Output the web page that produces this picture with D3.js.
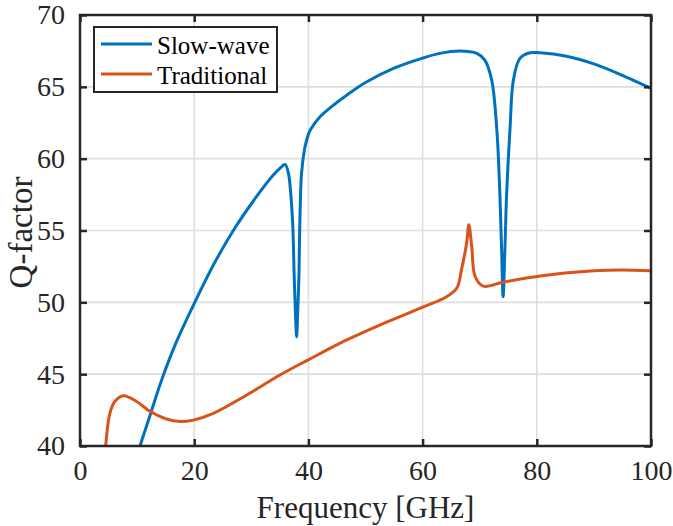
<!DOCTYPE html>
<html>
<head>
<meta charset="utf-8">
<script src="https://cdn.jsdelivr.net/npm/d3@7"></script>
<style>
  html, body { margin: 0; padding: 0; background: #fff; }
  svg { display: block; }
</style>
</head>
<body>
<svg id="chart" width="673" height="526"></svg>
<script>
// ---- Data ----
const seriesNames = ["Slow-wave", "Traditional"];
const seriesColors = ["#0072BD", "#D95319"];

const slowWaveFreq = [10.5, 12.4, 14.3, 16.9, 20.1, 23.5, 26.85, 30.9, 33.85, 35.2, 35.9, 36.5, 36.9, 37.25, 37.5, 37.75, 37.94,
  38.1, 38.35, 38.5, 38.8, 39.3, 39.7, 40.2, 41.0, 42.0, 44, 47, 50, 55, 60, 63, 66.5, 69.5, 70.9, 72.1, 73.0, 73.55,
  73.85, 74.1, 74.4, 74.7, 75.3, 75.9, 77.05, 78.8, 80.6, 85, 90, 95, 100];
const slowWaveQ = [40, 42.3, 44.6, 47.26, 50.0, 52.7, 55.0, 57.35, 58.86, 59.4, 59.6, 59.0, 57.6, 55.5, 52.0, 49.0, 47.6,
  49.0, 52.0, 55.5, 59.0, 60.6, 61.3, 61.9, 62.4, 62.9, 63.6, 64.5, 65.3, 66.3, 67.0, 67.33, 67.5, 67.33, 66.86, 65.47, 62.0, 57.35,
  53.5, 50.4, 53.5, 57.35, 62.0, 65.47, 66.98, 67.37, 67.37, 67.15, 66.6, 65.8, 64.9];

const traditionalFreq = [4.5, 5.25, 6.1, 7.6, 9.9, 12.3, 15.0, 17.5, 19.85, 23.35, 29.2, 35.0, 39.9, 46.7, 52.5, 59.95, 64.2,
  66.0, 66.8, 67.7, 68.1, 68.6, 69.2, 70.6, 74.1, 80.6, 90, 95, 100];
const traditionalQ = [40, 42.3, 43.1, 43.5, 43.1, 42.4, 41.9, 41.7, 41.8, 42.27, 43.55, 44.94, 45.98, 47.38, 48.42, 49.65, 50.39,
  51.0, 52.25, 54.1, 55.4, 53.9, 51.8, 51.13, 51.4, 51.83, 52.2, 52.25, 52.2];

const xTicks = [0, 20, 40, 60, 80, 100];
const yTicks = [40, 45, 50, 55, 60, 65, 70];
const xLabel = "Frequency [GHz]";
const yLabel = "Q-factor";

// ---- Layout ----
const svg = d3.select("#chart");
const mLeft = 80, mRight = 651, mTop = 15, mBottom = 446;
const x = d3.scaleLinear().domain([0, 100]).range([mLeft, mRight]);
const y = d3.scaleLinear().domain([40, 70]).range([mBottom, mTop]);
const axisColor = "#262626";
const font = "'Liberation Serif', 'Times New Roman', serif";

// grid
const grid = svg.append("g");
grid.selectAll(".gx").data(xTicks).join("line")
  .attr("x1", d => x(d)).attr("x2", d => x(d)).attr("y1", mTop).attr("y2", mBottom)
  .attr("stroke", "#dedede").attr("stroke-width", 1.6);
grid.selectAll(".gy").data(yTicks).join("line")
  .attr("y1", d => y(d)).attr("y2", d => y(d)).attr("x1", mLeft).attr("x2", mRight)
  .attr("stroke", "#dedede").attr("stroke-width", 1.6);

// data lines
svg.append("defs").append("clipPath").attr("id", "clip")
  .append("rect").attr("x", mLeft).attr("y", mTop).attr("width", mRight - mLeft).attr("height", mBottom - mTop);

const line = d3.line().x(d => x(d[0])).y(d => y(d[1])).curve(d3.curveCatmullRom.alpha(0.5));
const series = [
  d3.zip(slowWaveFreq, slowWaveQ),
  d3.zip(traditionalFreq, traditionalQ)
];
const plot = svg.append("g").attr("clip-path", "url(#clip)");
series.forEach((s, i) => {
  plot.append("path").datum(s).attr("d", line)
    .attr("fill", "none").attr("stroke", seriesColors[i]).attr("stroke-width", 3)
    .attr("stroke-linejoin", "round").attr("stroke-linecap", "round");
});

// axes (ticks inward, box on)
const tickLen = 7;
const axes = svg.append("g");
const fmt = d3.format("d");
axes.append("g").attr("transform", `translate(0,${mBottom})`)
  .call(d3.axisBottom(x).tickValues(xTicks).tickSize(-tickLen).tickPadding(14).tickFormat(fmt));
axes.append("g").attr("transform", `translate(0,${mTop})`)
  .call(d3.axisTop(x).tickValues(xTicks).tickSize(-tickLen).tickFormat(""));
axes.append("g").attr("transform", `translate(${mLeft},0)`)
  .call(d3.axisLeft(y).tickValues(yTicks).tickSize(-tickLen).tickPadding(15).tickFormat(fmt));
axes.append("g").attr("transform", `translate(${mRight},0)`)
  .call(d3.axisRight(y).tickValues(yTicks).tickSize(-tickLen).tickFormat(""));
axes.selectAll(".domain").remove();
axes.selectAll(".tick line").attr("stroke", axisColor).attr("stroke-width", 2.5);
axes.selectAll(".tick text").attr("fill", axisColor).attr("font-family", font).attr("font-size", 28);
svg.append("rect").attr("x", mLeft).attr("y", mTop).attr("width", mRight - mLeft).attr("height", mBottom - mTop)
  .attr("fill", "none").attr("stroke", axisColor).attr("stroke-width", 2.5);

// axis labels
svg.append("text").attr("x", (mLeft + mRight) / 2).attr("y", 518)
  .attr("text-anchor", "middle").attr("font-family", font).attr("font-size", 31).attr("fill", axisColor)
  .text(xLabel);
svg.append("text").attr("transform", `translate(32,${(mTop + mBottom) / 2 + 2}) rotate(-90)`)
  .attr("text-anchor", "middle").attr("font-family", font).attr("font-size", 33).attr("fill", axisColor)
  .text(yLabel);

// legend
const lg = svg.append("g");
lg.append("rect").attr("x", 94).attr("y", 27).attr("width", 183).attr("height", 65)
  .attr("fill", "#fff").attr("stroke", axisColor).attr("stroke-width", 2);
seriesNames.forEach((n, i) => {
  const yy = 44 + i * 30;
  lg.append("line").attr("x1", 101).attr("x2", 152).attr("y1", yy).attr("y2", yy)
    .attr("stroke", seriesColors[i]).attr("stroke-width", 3);
  lg.append("text").attr("x", 157).attr("y", yy + 10).attr("font-family", font).attr("font-size", 25)
    .attr("fill", "#000").text(n);
});
</script>
</body>
</html>
